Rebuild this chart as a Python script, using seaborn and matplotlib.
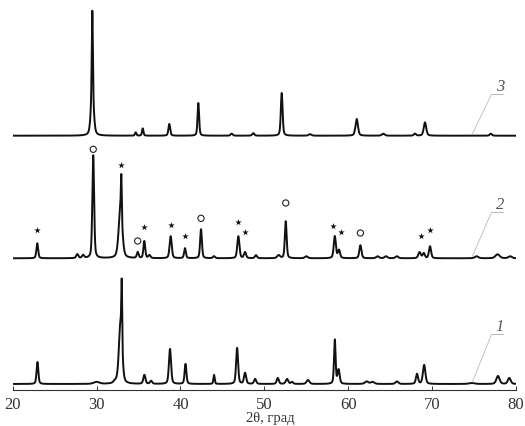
import numpy as np
import pandas as pd
import matplotlib
matplotlib.use("Agg")
import matplotlib.pyplot as plt
import seaborn as sns

# peaks: position (2theta, deg), height, FWHM (deg)
c1_pos = [22.95, 30.0, 32.2, 32.85, 33.0, 35.7, 36.5, 38.75, 40.6, 44.0, 46.75, 47.7, 48.9,
          51.6, 52.7, 53.3, 55.2, 58.4, 58.85, 62.2, 62.9, 65.8, 68.2, 69.05, 74.7, 77.85, 79.2]
c1_hgt = [22, 2, 2, 60, 62, 9, 3, 35, 20, 9, 36, 11, 5,
          6, 5, 2, 4, 44, 14, 2.5, 2, 2.5, 10, 19, 1, 8, 6]
c1_wid = [0.25, 0.8, 0.4, 0.45, 0.12, 0.3, 0.3, 0.3, 0.25, 0.18, 0.28, 0.3, 0.3,
          0.3, 0.35, 0.3, 0.4, 0.22, 0.3, 0.5, 0.5, 0.4, 0.3, 0.35, 0.8, 0.45, 0.4]

c2_pos = [22.93, 27.7, 28.4, 29.6, 32.85, 32.95, 34.9, 35.69, 36.3, 38.83, 40.54, 42.45, 44.0,
          46.9, 47.7, 49.0, 51.7, 52.55, 55.0, 58.4, 58.9, 61.45, 63.5, 64.5, 65.8, 68.5, 69.0,
          69.75, 75.3, 77.8, 79.3]
c2_hgt = [15, 4, 3, 103, 50, 40, 6, 17, 3, 22, 10, 29, 2,
          22, 6, 3, 3, 37, 2, 22, 8, 13, 2, 2, 2, 6, 5,
          12, 2, 4, 2]
c2_wid = [0.25, 0.3, 0.3, 0.25, 0.5, 0.12, 0.25, 0.25, 0.3, 0.3, 0.25, 0.25, 0.3,
          0.3, 0.3, 0.3, 0.4, 0.25, 0.4, 0.3, 0.3, 0.3, 0.4, 0.4, 0.4, 0.35, 0.3,
          0.3, 0.5, 0.6, 0.5]

c3_pos = [29.49, 29.49, 34.66, 35.5, 38.67, 42.13, 46.1, 48.68, 52.07, 55.44, 61.01, 64.18,
          67.96, 69.15, 76.99]
c3_hgt = [40, 85, 3.3, 7.3, 11.7, 32.7, 2, 2.5, 42.7, 1.5, 16.7, 2, 2, 13.3, 2]
c3_wid = [0.4, 0.15, 0.2, 0.2, 0.25, 0.22, 0.3, 0.3, 0.25, 0.4, 0.35, 0.4, 0.3, 0.35, 0.3]

# vertical offsets of the three patterns
offsets = [6, 131.7, 254.3]

# phase marks above pattern 2 (height above its baseline)
star_pos = [22.93, 32.91, 35.69, 38.83, 40.54, 46.9, 47.7, 58.15, 59.1, 68.68, 69.8]
star_hgt = [28.3, 93.3, 31.6, 33.3, 22, 36.6, 26.6, 32, 26, 22, 28.6]
circ_pos = [29.6, 34.9, 42.45, 52.55, 61.45]
circ_hgt = [109, 17.3, 40, 55.3, 25.3]

curve_labels = ["1", "2", "3"]
label_y = [64, 186, 304]

tth = np.arange(20, 80.001, 0.01)


def profile(pos, hgt, wid):
    y = np.zeros_like(tth)
    for p, h, w in zip(pos, hgt, wid):
        g = np.exp(-4 * np.log(2) * ((tth - p) / w) ** 2)
        l = 1 / (1 + 4 * ((tth - p) / w) ** 2)
        y += h * (0.6 * g + 0.4 * l)
    return y


frames = []
for k, (pos, hgt, wid) in enumerate([(c1_pos, c1_hgt, c1_wid), (c2_pos, c2_hgt, c2_wid),
                                     (c3_pos, c3_hgt, c3_wid)]):
    frames.append(pd.DataFrame({"tth": tth, "I": profile(pos, hgt, wid) + offsets[k], "curve": curve_labels[k]}))
df = pd.concat(frames)

sns.set_style("white")
plt.rcParams["font.family"] = ["Liberation Serif", "DejaVu Serif"]

fig = plt.figure(figsize=(5.25, 4.27), dpi=100)
ax = fig.add_axes([12.7 / 525, 36 / 427, 503.3 / 525, 391 / 427])

for c in curve_labels:
    sub = df[df["curve"] == c]
    sns.lineplot(data=sub, x="tth", y="I", ax=ax, color="#111111", lw=1.4, estimator=None)

sns.scatterplot(x=star_pos, y=np.array(star_hgt) + offsets[1], ax=ax, marker="*", s=24,
                color="#111111", linewidth=0)
sns.scatterplot(x=circ_pos, y=np.array(circ_hgt) + offsets[1], ax=ax, marker="o", s=20,
                facecolor="none", edgecolor="#222222", linewidth=0.8)

# curve numbers with thin leader lines
for k, c in enumerate(curve_labels):
    ax.text(78.1, label_y[k], c, fontsize=12, style="italic", color="#555555", ha="center", va="center")
    y0 = label_y[k] - 8
    ax.plot([77.1, 78.4], [y0, y0], color="#aaaaaa", lw=0.6)
    ax.plot([77.1, 74.8], [y0, offsets[k] + 2], color="#bbbbbb", lw=0.6)

ax.set_xlim(20, 80)
ax.set_ylim(0, 391)
for s in ["left", "right", "top"]:
    ax.spines[s].set_visible(False)
ax.spines["bottom"].set_color("#333333")
ax.spines["bottom"].set_linewidth(0.8)
ax.set_yticks([])
ax.set_xticks(range(20, 81, 10))
ax.tick_params(axis="x", direction="in", length=3, width=0.7, pad=4, labelsize=12,
               colors="#333333", bottom=True)
ax.set_xlabel("")
ax.set_ylabel("")
fig.text(270 / 525, 2 / 427, "2θ, град", fontsize=10.5, color="#333333", ha="center", va="bottom")

fig.savefig("out.png", dpi=100)
